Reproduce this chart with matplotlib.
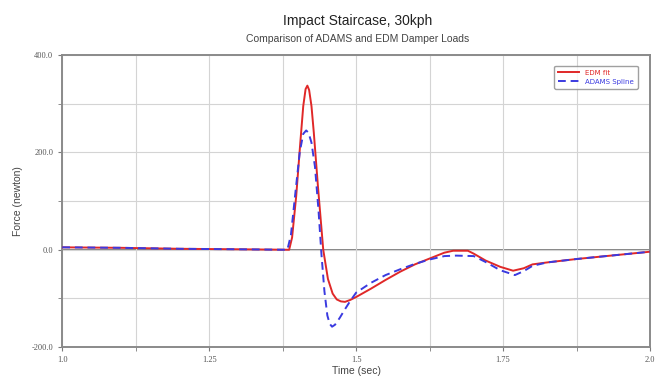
import matplotlib
matplotlib.use("Agg")
import matplotlib.pyplot as plt
from matplotlib.ticker import MultipleLocator, FixedLocator, FuncFormatter

# EDM fit (red, solid)
t_edm = [1.0, 1.1, 1.2, 1.3, 1.386, 1.391, 1.398, 1.405, 1.41, 1.414, 1.417,
         1.42, 1.424, 1.428, 1.435, 1.444, 1.452, 1.46, 1.467, 1.474, 1.481,
         1.49, 1.5, 1.525, 1.55, 1.575, 1.6, 1.625, 1.65, 1.665, 1.69, 1.7,
         1.72, 1.745, 1.767, 1.785, 1.8, 1.825, 1.875, 1.95, 2.0]
f_edm = [5, 4, 2, 1, 0, 25, 110, 220, 295, 330, 337,
         328, 295, 240, 130, 0, -60, -90, -102, -106, -107,
         -103, -97, -80, -62, -45, -30, -18, -6, -2, -2, -8,
         -22, -35, -43, -38, -30, -26, -19, -10, -4]

# ADAMS spline (blue, dashed)
t_adams = [1.0, 1.1, 1.2, 1.3, 1.383, 1.389, 1.396, 1.404, 1.41, 1.415, 1.419,
           1.424, 1.43, 1.436, 1.441, 1.446, 1.451, 1.455, 1.459, 1.464, 1.472,
           1.48, 1.49, 1.5, 1.525, 1.55, 1.575, 1.6, 1.625, 1.65, 1.67, 1.7,
           1.72, 1.745, 1.77, 1.785, 1.8, 1.825, 1.875, 1.95, 2.0]
f_adams = [5, 4, 2, 1, 0, 30, 110, 200, 238, 245, 240,
           220, 170, 80, -10, -85, -135, -152, -158, -154, -140,
           -124, -105, -88, -68, -52, -40, -29, -20, -13, -12, -13,
           -25, -42, -52, -44, -33, -26, -19, -10, -4]

x_major = [1.0, 1.25, 1.5, 1.75, 2.0]
y_major = [-200, 0, 200, 400]

fig = plt.figure(figsize=(6.62, 3.79), dpi=100)
ax = fig.add_axes([0.094, 0.084, 0.888, 0.771])

ax.plot(t_edm, f_edm, color="#e02828", lw=1.4, label="EDM fit", zorder=4)
ax.plot(t_adams, f_adams, color="#3a3ae0", lw=1.4, ls=(0, (4, 2.5)),
        label="ADAMS Spline", zorder=5)

ax.set_xlim(1.0, 2.0)
ax.set_ylim(-200, 400)
ax.xaxis.set_major_locator(FixedLocator(x_major))
ax.xaxis.set_minor_locator(MultipleLocator(0.125))
ax.yaxis.set_major_locator(FixedLocator(y_major))
ax.yaxis.set_minor_locator(MultipleLocator(100))
ax.xaxis.set_major_formatter(FuncFormatter(lambda v, p: f"{v:g}" if v % 1 else f"{v:.1f}"))
ax.yaxis.set_major_formatter(FuncFormatter(lambda v, p: f"{v:.1f}"))

ax.grid(True, which="both", color="#d4d4d4", lw=0.8, zorder=0)
ax.axhline(0, color="#7a7a7a", lw=1.3, zorder=1)
ax.tick_params(which="both", direction="out", colors="#7a7a7a", length=3,
               labelsize=6, labelcolor="#555555")
for lab in ax.get_xticklabels() + ax.get_yticklabels():
    lab.set_family("Liberation Serif")
for sp in ax.spines.values():
    sp.set_color("#8a8a8a")
    sp.set_linewidth(1.4)

ax.set_xlabel("Time (sec)", fontsize=7.5, color="#444444", labelpad=1,
              family="Liberation Sans")
ax.set_ylabel("Force (newton)", fontsize=7.5, color="#444444", labelpad=6,
              family="Liberation Sans")

fig.text(0.54, 0.945, "Impact Staircase, 30kph", ha="center", va="center",
         fontsize=10, color="#222222", family="Liberation Sans")
fig.text(0.54, 0.898, "Comparison of ADAMS and EDM Damper Loads", ha="center",
         va="center", fontsize=7.5, color="#444444", family="Liberation Sans")

leg = ax.legend(loc="upper right", bbox_to_anchor=(0.985, 0.975), fontsize=5,
                frameon=True, fancybox=True, handlelength=3, borderpad=0.6,
                labelspacing=0.4)
leg.get_frame().set_edgecolor("#888888")
leg.get_frame().set_linewidth(1.0)
for txt, c in zip(leg.get_texts(), ["#e02828", "#3a3ae0"]):
    txt.set_color(c)

fig.savefig("out.png", dpi=100)
